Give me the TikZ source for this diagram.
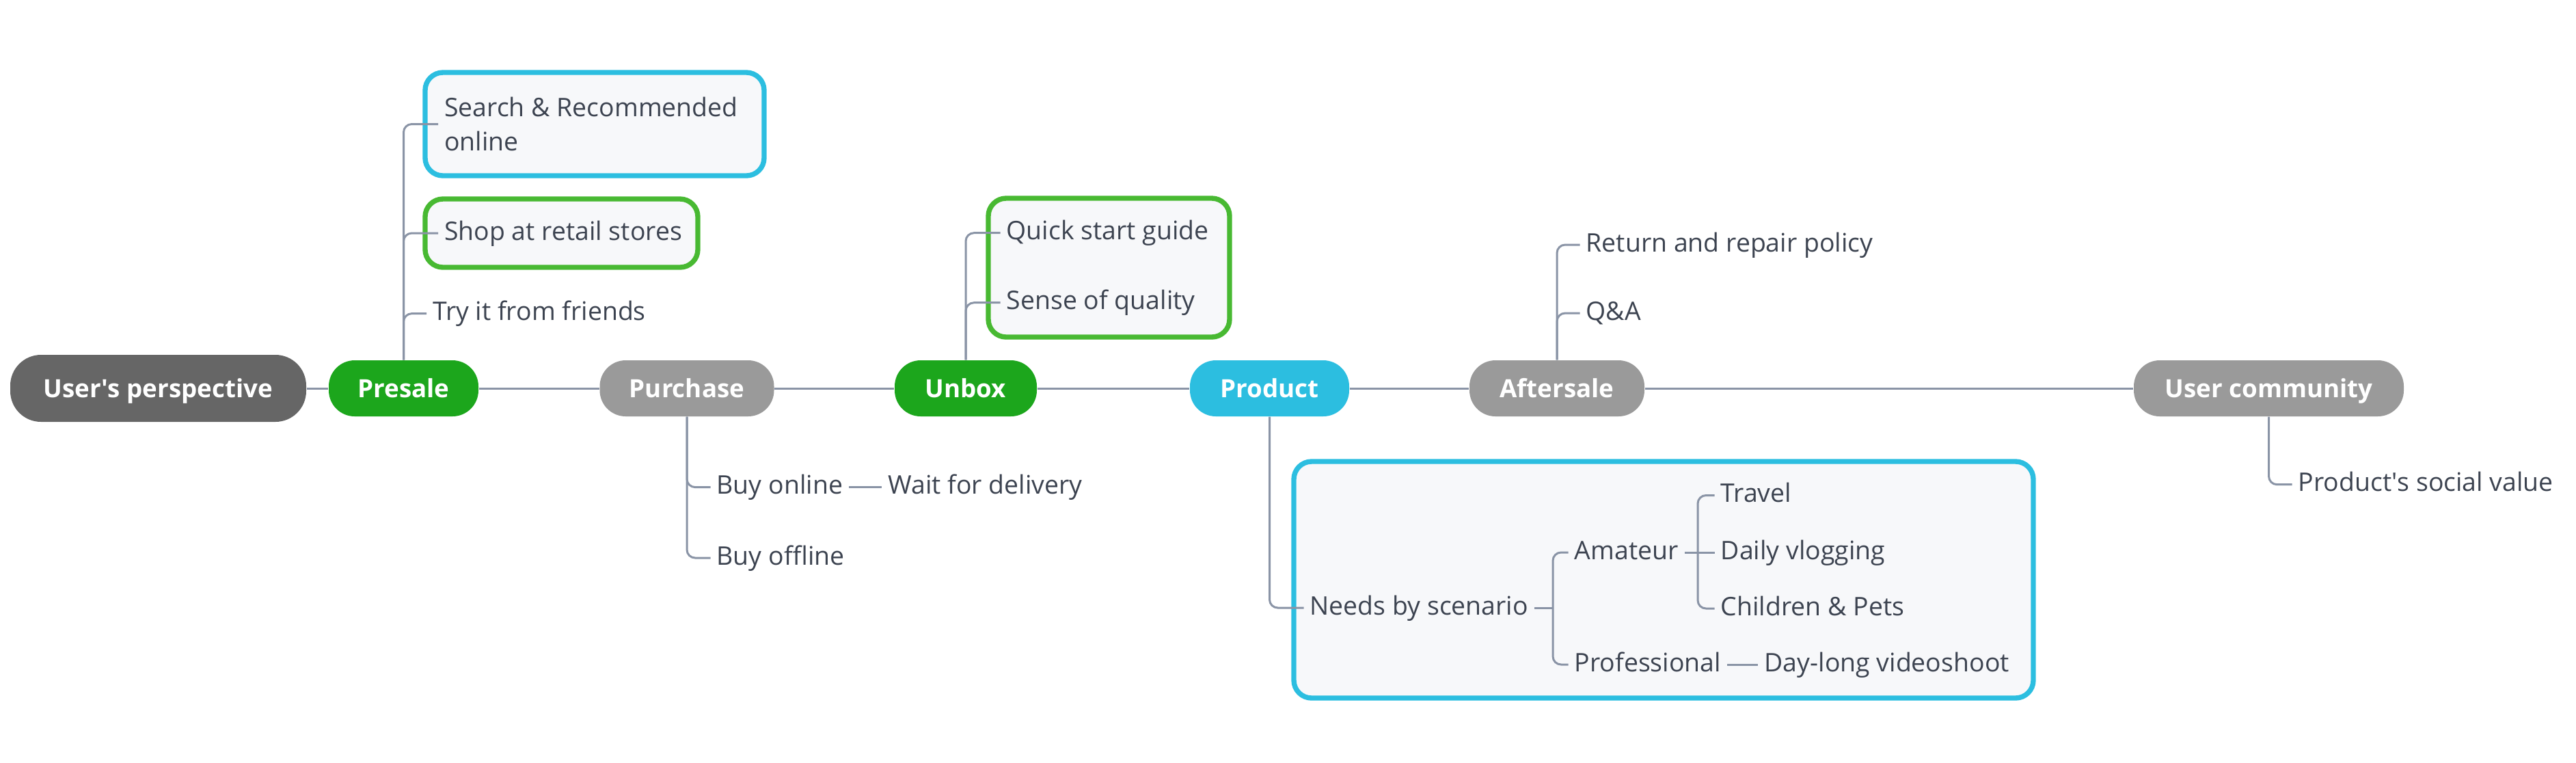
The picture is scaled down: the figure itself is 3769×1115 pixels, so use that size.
\documentclass[tikz,border=0pt]{standalone}
\usepackage{fontspec}
\setmainfont{Open Sans}
\usepackage{tikz}
\usetikzlibrary{positioning}

\definecolor{linegray}{HTML}{8A94A6}
\definecolor{textgray}{HTML}{3C4350}
\definecolor{rootgray}{HTML}{666666}
\definecolor{stagegray}{HTML}{9A9A9A}
\definecolor{stagegreen}{HTML}{1CA61C}
\definecolor{stageblue}{HTML}{2CBEE0}
\definecolor{boxgreen}{HTML}{48B932}
\definecolor{boxfill}{HTML}{F7F8FA}

\tikzset{
  pill/.style={rectangle, rounded corners=3.8mm, minimum height=8.2mm, inner xsep=2mm, text height=2.65mm, text depth=0mm, text=white, font=\fontsize{10.45}{12}\selectfont\bfseries},
  topic/.style={anchor=west, inner xsep=0.85mm, inner ysep=0pt, text=textgray, font=\fontsize{10.65}{14.2}\selectfont},
  leaf/.style={topic, text height=2.8mm, text depth=0.8mm},
  link/.style={draw=linegray, line width=0.85pt, rounded corners=1.2mm},
  boundary/.style={fill=boxfill, line width=2.1pt, rounded corners=2.6mm},
}

\begin{document}
\begin{tikzpicture}[x=0.1mm, y=-0.1mm]
    \useasboundingbox (0,0) rectangle (3769,1115);
    % Boundaries:
    \draw[boundary, draw=stageblue] (622,106) rectangle (1118,257);
    \draw[boundary, draw=boxgreen] (622,291) rectangle (1021,391);
    \draw[boundary, draw=boxgreen] (1446,290) rectangle (1799,493);
    \draw[boundary, draw=stageblue] (1893,675) rectangle (2975,1021);

    % Main stages:
    \node[pill, fill=rootgray, minimum width=43.3mm, minimum height=9.8mm, rounded corners=4.5mm] (users) at (231.5,568) {User\textquotesingle s perspective};
    \node[pill, fill=stagegreen, minimum width=21.9mm] (presale) at (590.5,568) {Presale};
    \node[pill, fill=stagegray, minimum width=25.5mm] (purchase) at (1005,568) {Purchase};
    \node[pill, fill=stagegreen, minimum width=20.8mm] (unbox) at (1413,568) {Unbox};
    \node[pill, fill=stageblue, minimum width=23.3mm] (product) at (1857.5,568) {Product};
    \node[pill, fill=stagegray, minimum width=25.6mm] (aftersale) at (2278,568) {Aftersale};
    \node[pill, fill=stagegray, minimum width=39.5mm] (community) at (3319.5,568) {User community};

    % Topics:
    \node[topic, align=left] (search) at (641,181.5) {Search \& Recommended\\online};
    \node[leaf] (shop) at (641,341) {Shop at retail stores};
    \node[leaf] (friends) at (624,458.6) {Try it from friends};
    \node[leaf] (buyon) at (1039.5,712.6) {Buy online};
    \node[leaf, right=4.8mm of buyon] (wait) {Wait for delivery};
    \node[leaf] (buyoff) at (1039.5,816) {Buy offline};
    \node[leaf] (quick) at (1463.5,340.7) {Quick start guide};
    \node[leaf] (sense) at (1463.5,442.7) {Sense of quality};
    \node[leaf] (needs) at (1907.5,889) {Needs by scenario};
    \node[leaf] (amateur) at (2294.5,808) {Amateur};
    \node[leaf] (pro) at (2294.5,972) {Professional};
    \node[leaf] (travel) at (2508.5,724.5) {Travel};
    \node[leaf] (daily) at (2508.5,808) {Daily vlogging};
    \node[leaf] (children) at (2508.5,890) {Children \& Pets};
    \node[leaf, right=4.5mm of pro] (dayl) {Day-long videoshoot};
    \node[leaf] (retpol) at (2311.5,358) {Return and repair policy};
    \node[leaf] (qa) at (2311.5,458) {Q\&A};
    \node[leaf] (social) at (3353.5,708.7) {Product\textquotesingle s social value};
    \coordinate (nfork) at (2272,889);
    \coordinate (afork) at (2484,808);

    % Connectors:
    \foreach \a/\b in {users/presale, presale/purchase, purchase/unbox, unbox/product, product/aftersale, aftersale/community}
        \draw[link] (\a) -- (\b);
    \foreach \t in {search, shop, friends}
        \draw[link] (presale.north) |- (\t.west);
    \foreach \t in {buyon, buyoff}
        \draw[link] (purchase.south) |- (\t.west);
    \foreach \t in {quick, sense}
        \draw[link] (unbox.north) |- (\t.west);
    \foreach \t in {retpol, qa}
        \draw[link] (aftersale.north) |- (\t.west);
    \draw[link] (product.south) |- (needs.west);
    \draw[link] (community.south) |- (social.west);
    \draw[link] (buyon.east) -- (wait.west);
    \draw[link] (needs.east) -- (nfork);
    \draw[link] (amateur.west) -| (nfork) |- (pro.west);
    \draw[link] (amateur.east) -- (daily.west);
    \draw[link] (travel.west) -| (afork) |- (children.west);
    \draw[link] (pro.east) -- (dayl.west);
\end{tikzpicture}
\end{document}
